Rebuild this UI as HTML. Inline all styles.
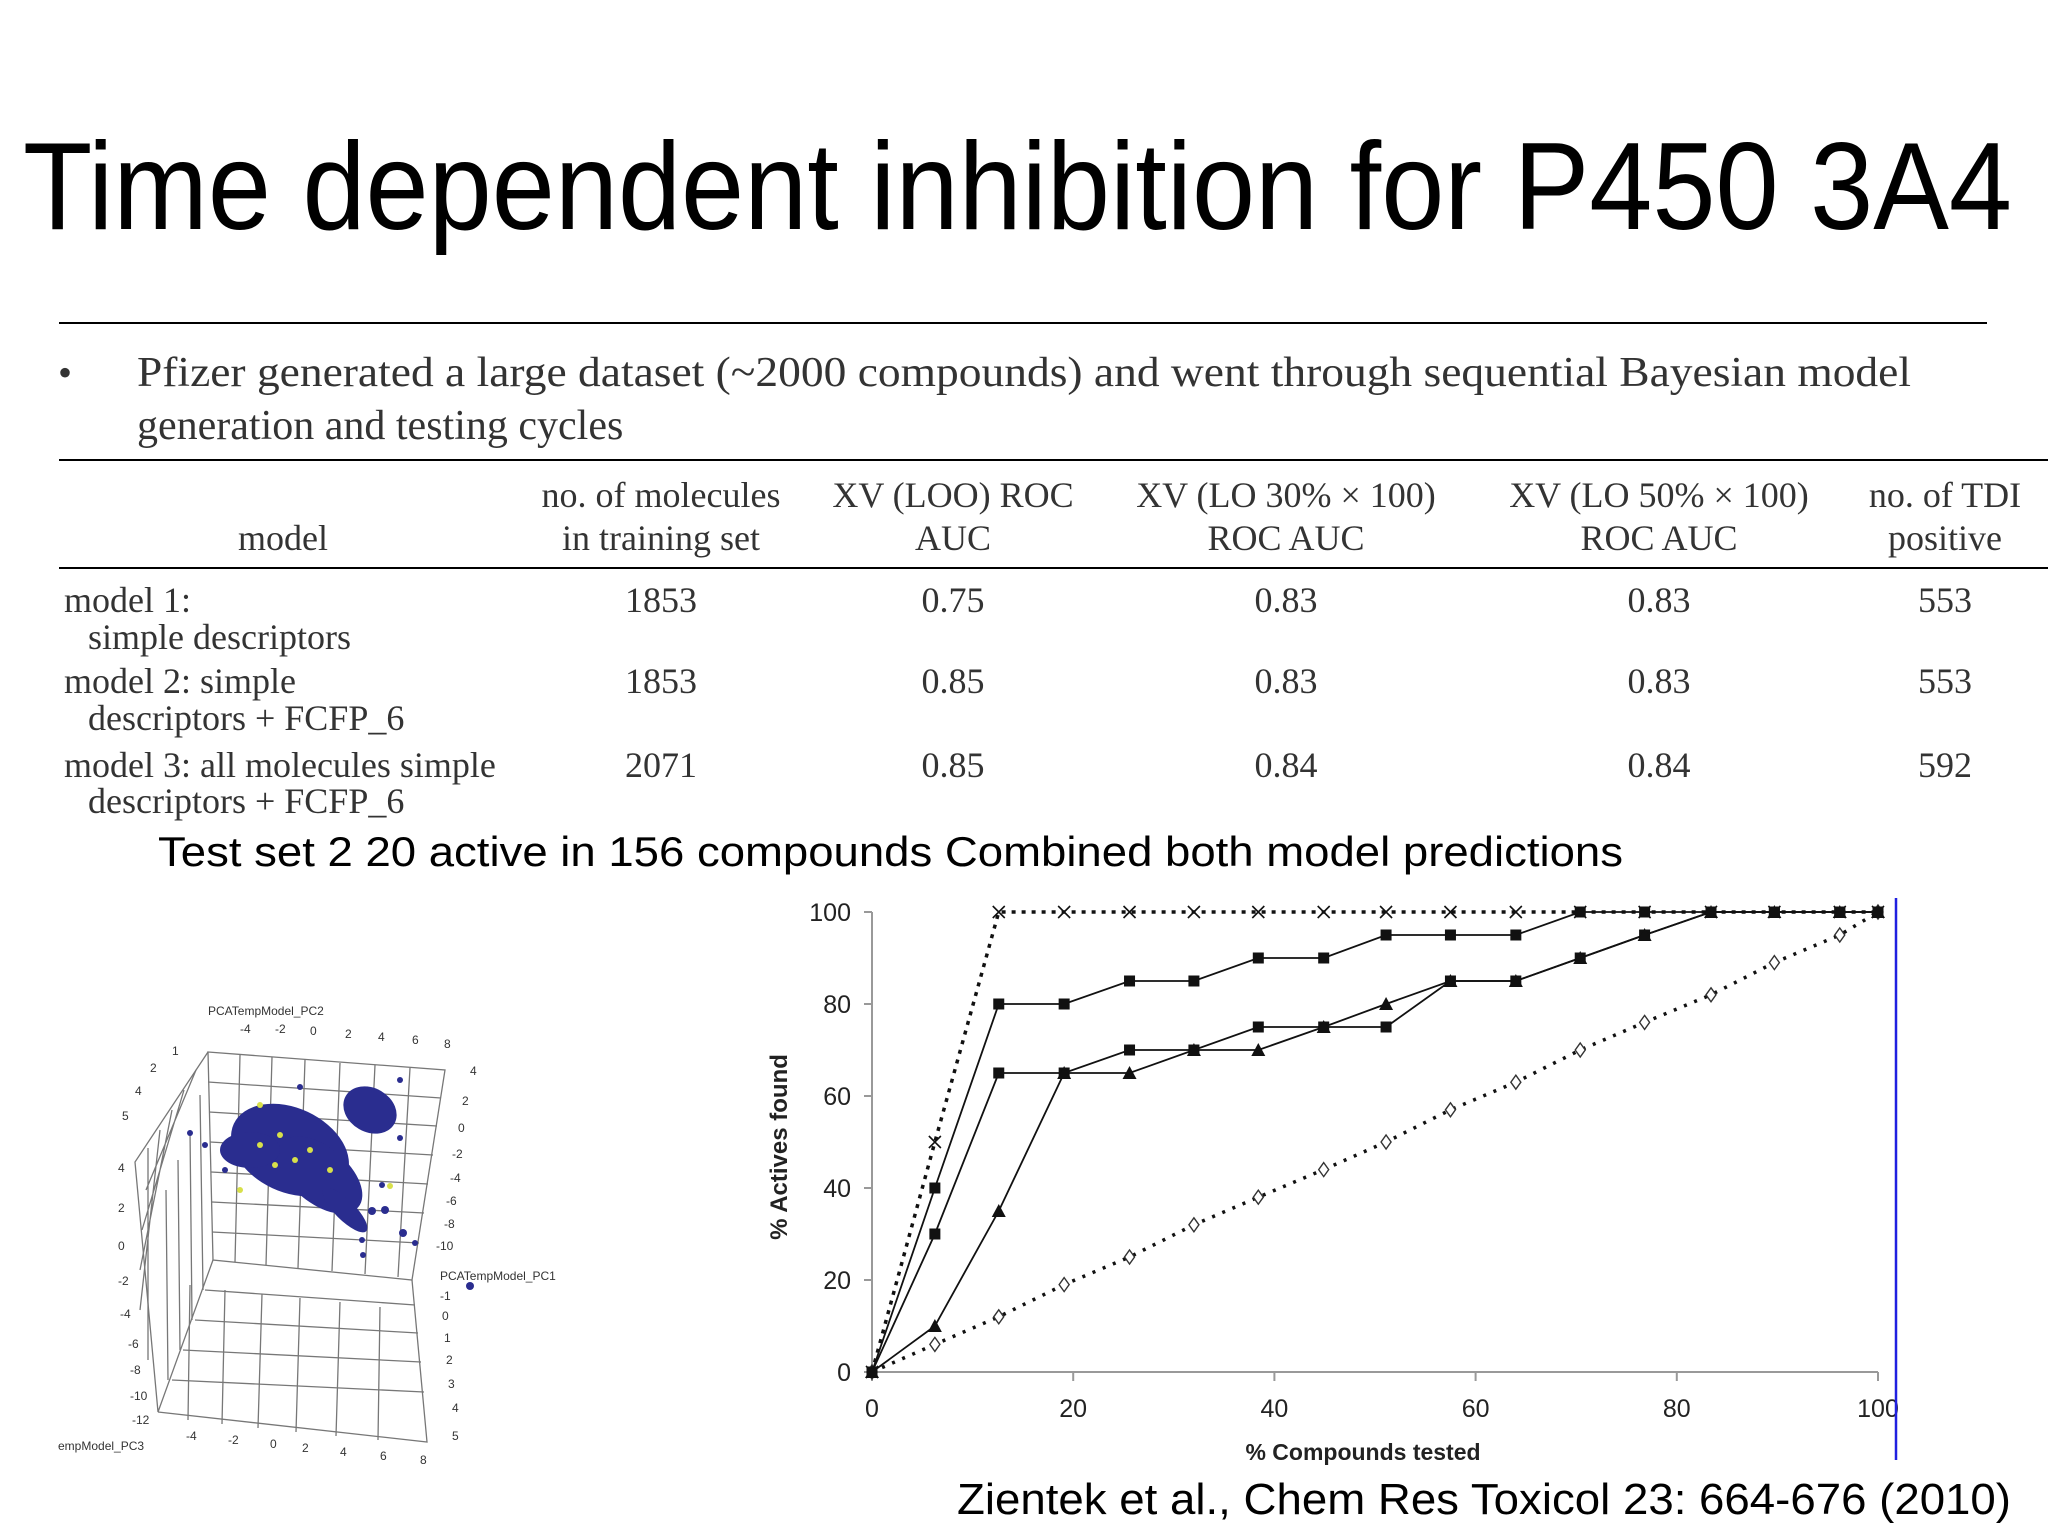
<!DOCTYPE html>
<html><head><meta charset="utf-8"><style>
html,body{margin:0;padding:0;background:#fff}
svg{display:block}
.serif{font-family:"Liberation Serif",serif;fill:#333}
.sans{font-family:"Liberation Sans",sans-serif}
</style></head><body>
<svg id="page" width="2048" height="1536" viewBox="0 0 2048 1536" xmlns="http://www.w3.org/2000/svg">
<text class="sans" x="23" y="229" font-size="124" textLength="1989" lengthAdjust="spacingAndGlyphs" fill="#000">Time dependent inhibition for P450 3A4</text>
<line x1="59" y1="323" x2="1987" y2="323" stroke="#000" stroke-width="2"/>
<text class="serif" x="58" y="386" font-size="40" fill="#000">•</text>
<text class="serif" x="137" y="386" font-size="42" textLength="1774" lengthAdjust="spacingAndGlyphs" fill="#000">Pfizer generated a large dataset (~2000 compounds) and went through sequential Bayesian model</text>
<text class="serif" x="137" y="439" font-size="42" fill="#000">generation and testing cycles</text>

<g font-size="36">
<line x1="59" y1="460" x2="2048" y2="460" stroke="#000" stroke-width="2"/>
<line x1="59" y1="568" x2="2048" y2="568" stroke="#000" stroke-width="2"/>
<g class="serif" text-anchor="middle">
<text x="283" y="550">model</text>
<text x="661" y="507">no. of molecules</text>
<text x="661" y="550">in training set</text>
<text x="953" y="507">XV (LOO) ROC</text>
<text x="953" y="550">AUC</text>
<text x="1286" y="507">XV (LO 30% × 100)</text>
<text x="1286" y="550">ROC AUC</text>
<text x="1659" y="507">XV (LO 50% × 100)</text>
<text x="1659" y="550">ROC AUC</text>
<text x="1945" y="507">no. of TDI</text>
<text x="1945" y="550">positive</text>
</g>
<g class="serif">
<text x="64" y="612">model 1:</text><text x="88" y="649">simple descriptors</text>
<g text-anchor="middle"><text x="661" y="612">1853</text><text x="953" y="612">0.75</text><text x="1286" y="612">0.83</text><text x="1659" y="612">0.83</text><text x="1945" y="612">553</text></g>
</g>
<g class="serif">
<text x="64" y="693">model 2: simple</text><text x="88" y="730">descriptors + FCFP_6</text>
<g text-anchor="middle"><text x="661" y="693">1853</text><text x="953" y="693">0.85</text><text x="1286" y="693">0.83</text><text x="1659" y="693">0.83</text><text x="1945" y="693">553</text></g>
</g>
<g class="serif">
<text x="64" y="777">model 3: all molecules simple</text><text x="88" y="813">descriptors + FCFP_6</text>
<g text-anchor="middle"><text x="661" y="777">2071</text><text x="953" y="777">0.85</text><text x="1286" y="777">0.84</text><text x="1659" y="777">0.84</text><text x="1945" y="777">592</text></g>
</g>
</g>

<text class="sans" x="158" y="866" font-size="42" textLength="1465" lengthAdjust="spacingAndGlyphs" fill="#000">Test set 2 20 active in 156 compounds Combined both model predictions</text>
<text class="sans" x="957" y="1514" font-size="44" textLength="1054" lengthAdjust="spacingAndGlyphs" fill="#000">Zientek et al., Chem Res Toxicol 23: 664-676 (2010)</text>

<g id="pca" stroke="#777" stroke-width="1.3" fill="none">
<path d="M208 1052 L445 1070 L412 1280 L213 1260 Z"/>
<path d="M240 1055 L235 1262 M272 1057 L266 1265 M305 1060 L298 1268 M340 1063 L332 1271 M375 1065 L365 1274 M410 1068 L398 1277" />
<path d="M208 1082 L441 1098 M209 1112 L437 1126 M210 1142 L433 1155 M211 1172 L428 1184 M212 1202 L424 1213 M212 1232 L419 1243"/>
<path d="M208 1052 L135 1162 L158 1412 L213 1260"/>
<path d="M196 1070 L146 1190 M184 1090 L142 1230 M172 1110 L140 1270 M160 1130 L140 1310 M148 1148 L148 1360"/>
<path d="M200 1095 L203 1290 M190 1130 L192 1320 M178 1160 L180 1350 M166 1190 L168 1380"/>
<path d="M158 1412 L427 1442 L412 1280"/>
<path d="M190 1285 L188 1420 M225 1290 L222 1424 M262 1294 L258 1428 M300 1298 L296 1432 M340 1302 L336 1436 M380 1307 L378 1440"/>
<path d="M205 1290 L415 1305 M195 1320 L418 1333 M183 1350 L421 1362 M172 1380 L424 1392"/>
</g>
<g id="pca-text" class="sans" font-size="12" fill="#333">
<text x="208" y="1015">PCATempModel_PC2</text>
<text x="440" y="1280">PCATempModel_PC1</text>
<text x="58" y="1450">empModel_PC3</text>
<text x="240" y="1033">-4</text><text x="275" y="1033">-2</text><text x="310" y="1035">0</text><text x="345" y="1038">2</text><text x="378" y="1041">4</text><text x="412" y="1044">6</text><text x="444" y="1048">8</text>
<text x="470" y="1075">4</text><text x="462" y="1105">2</text><text x="458" y="1132">0</text><text x="452" y="1158">-2</text><text x="450" y="1182">-4</text><text x="446" y="1205">-6</text><text x="444" y="1228">-8</text><text x="436" y="1250">-10</text>
<text x="118" y="1172">4</text><text x="118" y="1212">2</text><text x="118" y="1250">0</text><text x="118" y="1285">-2</text><text x="120" y="1318">-4</text><text x="128" y="1348">-6</text><text x="130" y="1374">-8</text><text x="130" y="1400">-10</text><text x="132" y="1424">-12</text>
<text x="122" y="1120">5</text><text x="135" y="1095">4</text><text x="150" y="1072">2</text><text x="172" y="1055">1</text>
<text x="186" y="1440">-4</text><text x="228" y="1444">-2</text><text x="270" y="1448">0</text><text x="302" y="1452">2</text><text x="340" y="1456">4</text><text x="380" y="1460">6</text><text x="420" y="1464">8</text>
<text x="440" y="1300">-1</text><text x="442" y="1320">0</text><text x="444" y="1342">1</text><text x="446" y="1364">2</text><text x="448" y="1388">3</text><text x="452" y="1412">4</text><text x="452" y="1440">5</text>
</g>
<g fill="#2a2d8f">
<ellipse cx="290" cy="1150" rx="62" ry="42" transform="rotate(25 290 1150)"/>
<ellipse cx="320" cy="1175" rx="50" ry="28" transform="rotate(40 320 1175)"/>
<ellipse cx="370" cy="1110" rx="28" ry="22" transform="rotate(30 370 1110)"/>
<ellipse cx="250" cy="1150" rx="30" ry="18"/>
<ellipse cx="345" cy="1210" rx="30" ry="10" transform="rotate(45 345 1210)"/>
<circle cx="190" cy="1133" r="3"/><circle cx="205" cy="1145" r="3"/><circle cx="225" cy="1170" r="3"/>
<circle cx="382" cy="1185" r="3"/><circle cx="372" cy="1211" r="4"/><circle cx="385" cy="1210" r="4"/><circle cx="403" cy="1233" r="4"/><circle cx="415" cy="1243" r="3"/><circle cx="362" cy="1240" r="3"/><circle cx="363" cy="1255" r="3"/><circle cx="470" cy="1286" r="4"/><circle cx="400" cy="1138" r="3"/><circle cx="400" cy="1080" r="3"/><circle cx="300" cy="1087" r="3"/>
</g>
<g fill="#d8e04a">
<circle cx="280" cy="1135" r="3"/><circle cx="295" cy="1160" r="3"/><circle cx="260" cy="1145" r="3"/><circle cx="310" cy="1150" r="3"/><circle cx="275" cy="1165" r="3"/><circle cx="330" cy="1170" r="3"/><circle cx="240" cy="1190" r="3"/><circle cx="390" cy="1186" r="3"/><circle cx="260" cy="1105" r="3"/>
</g>

<g id="chart"></g>
<line x1="1896" y1="898" x2="1896" y2="1460" stroke="#2020e0" stroke-width="2.5"/>
</svg>
<script>
const xValues=[0,6.25,12.6,19.1,25.6,32,38.4,44.9,51.1,57.5,64,70.4,76.8,83.4,89.7,96.2,100];
const seriesIdeal=[0,50,100,100,100,100,100,100,100,100,100,100,100,100,100,100,100];
const seriesModelA=[0,40,80,80,85,85,90,90,95,95,95,100,100,100,100,100,100];
const seriesModelB=[0,30,65,65,70,70,75,75,75,85,85,90,95,100,100,100,100];
const seriesModelC=[0,10,35,65,65,70,70,75,80,85,85,90,95,100,100,100,100];
const seriesRandom=[0,6,12,19,25,32,38,44,50,57,63,70,76,82,89,95,100];
const xTicks=[0,20,40,60,80,100];
const yTicks=[0,20,40,60,80,100];
const NS='http://www.w3.org/2000/svg';
const g=document.getElementById('chart');
const X0=872,X1=1878,Y0=1372,Y1=912;
const sx=v=>X0+(X1-X0)*v/100, sy=v=>Y0-(Y0-Y1)*v/100;
function mk(t,a,p){const e=document.createElementNS(NS,t);for(const k in a)e.setAttribute(k,a[k]);(p||g).appendChild(e);return e;}
const ax=mk('line',{x1:X0,y1:Y0,x2:X1,y2:Y0,stroke:'#999','stroke-width':2});


const ay=mk('line',{x1:X0,y1:Y0,x2:X0,y2:Y1,stroke:'#999','stroke-width':2});


xTicks.forEach(t=>{
  mk('line',{x1:sx(t),y1:Y0,x2:sx(t),y2:Y0+9,stroke:'#999','stroke-width':2});
  const l=mk('text',{x:sx(t),y:1417,'text-anchor':'middle','font-family':'Liberation Sans, sans-serif','font-size':25,fill:'#222'});
  l.textContent=t;
  
  
});
yTicks.forEach(t=>{
  mk('line',{x1:X0-8,y1:sy(t),x2:X0,y2:sy(t),stroke:'#999','stroke-width':2});
  const l=mk('text',{x:851,y:sy(t)+9,'text-anchor':'end','font-family':'Liberation Sans, sans-serif','font-size':25,fill:'#222'});
  l.textContent=t;
  
  
});
const xt=mk('text',{x:1363,y:1460,'text-anchor':'middle','font-family':'Liberation Sans, sans-serif','font-size':23,'font-weight':'bold',fill:'#222'});
xt.textContent='% Compounds tested';


const yt=mk('text',{x:0,y:0,'text-anchor':'middle','font-family':'Liberation Sans, sans-serif','font-size':24,'font-weight':'bold',fill:'#222',transform:'translate(787 1147) rotate(-90)'});
yt.textContent='% Actives found';


function series(vals,name,dash,marker){
  const pts=vals.map((v,i)=>sx(xValues[i])+','+sy(v)).join(' ');
  const pl=mk('polyline',{points:pts,fill:'none',stroke:'#111','stroke-width':dash?3.5:1.8,'stroke-dasharray':dash||'none'});
  
  
  vals.forEach((v,i)=>{
    const x=sx(xValues[i]),y=sy(v);let m;
    if(marker==='sq')m=mk('rect',{x:x-5.5,y:y-5.5,width:11,height:11,fill:'#111'});
    else if(marker==='tri')m=mk('path',{d:`M${x} ${y-7}L${x+7} ${y+6}L${x-7} ${y+6}Z`,fill:'#111'});
    else if(marker==='x')m=mk('path',{d:`M${x-6} ${y-6}L${x+6} ${y+6}M${x+6} ${y-6}L${x-6} ${y+6}`,stroke:'#111','stroke-width':1.6});
    else m=mk('path',{d:`M${x} ${y-7}L${x+5} ${y}L${x} ${y+7}L${x-5} ${y}Z`,fill:'#fff',stroke:'#333','stroke-width':1.4});
    
    
  });
}
series(seriesRandom,'random','3 8','dia');
series(seriesIdeal,'ideal','4 6','x');
series(seriesModelB,'model-b',null,'sq');
series(seriesModelC,'model-c',null,'tri');
series(seriesModelA,'model-a',null,'sq');
</script>
</body></html>
